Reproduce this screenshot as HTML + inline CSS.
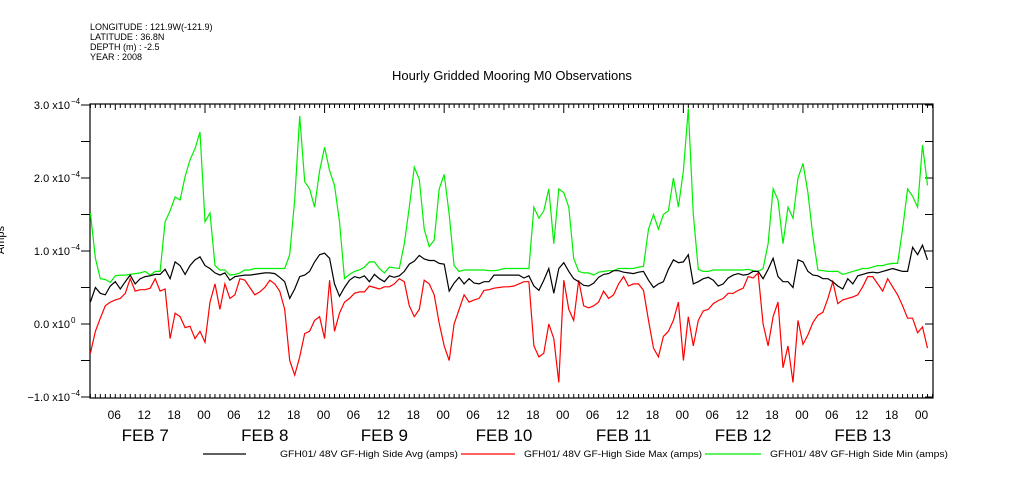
<!DOCTYPE html>
<html><head><meta charset="utf-8"><style>
body{margin:0;background:#fff;}
svg{display:block;font-family:"Liberation Sans",sans-serif;}
</style></head><body>
<svg id="chart" width="1009" height="504" viewBox="0 0 1009 504">
<g font-size="9" fill="#000">
<text x="90" y="30">LONGITUDE : 121.9W(-121.9)</text>
<text x="90" y="40">LATITUDE : 36.8N</text>
<text x="90" y="50">DEPTH (m) : -2.5</text>
<text x="90" y="60">YEAR : 2008</text>
</g>
<text x="512" y="80" font-size="13" text-anchor="middle">Hourly Gridded Mooring M0 Observations</text>
<text x="4" y="240" font-size="11" transform="rotate(-90 4 240)" text-anchor="middle">Amps</text>
<g id="axes"></g>
<g id="series"></g>
<g id="legend"></g>
</svg>
<script>
const hourStart = 1;
const yTicks = [3, 2, 1, 0, -1];
const yTickLabels = ["3.0 x10", "2.0 x10", "1.0 x10", "0.0 x10", "\u22121.0 x10"];
const yTickExp = ["-4", "-4", "-4", "0", "-4"];
const dayLabels = ["FEB   7", "FEB   8", "FEB   9", "FEB 10", "FEB 11", "FEB 12", "FEB 13"];
const hourLabels = ["06", "12", "18", "00"];
const avgSeries = [0.30,0.50,0.42,0.40,0.52,0.58,0.48,0.58,0.67,0.55,0.62,0.65,0.66,0.68,0.68,0.75,0.62,0.85,0.80,0.68,0.80,0.88,0.92,0.80,
0.76,0.70,0.67,0.70,0.60,0.65,0.66,0.67,0.67,0.68,0.69,0.70,0.70,0.69,0.64,0.58,0.35,0.48,0.65,0.67,0.72,0.85,0.95,0.97,
0.90,0.55,0.38,0.50,0.60,0.65,0.63,0.66,0.58,0.68,0.62,0.58,0.66,0.64,0.66,0.72,0.82,0.86,0.94,0.89,0.87,0.87,0.83,0.82,
0.45,0.56,0.64,0.55,0.62,0.56,0.55,0.58,0.58,0.67,0.67,0.67,0.67,0.67,0.67,0.63,0.66,0.52,0.46,0.60,0.76,0.42,0.76,0.84,
0.72,0.62,0.58,0.53,0.52,0.56,0.64,0.68,0.69,0.73,0.73,0.71,0.70,0.69,0.71,0.72,0.60,0.50,0.55,0.58,0.75,0.88,0.84,0.85,
0.95,0.55,0.58,0.62,0.64,0.60,0.52,0.55,0.63,0.67,0.69,0.67,0.68,0.72,0.72,0.62,0.75,0.90,0.65,0.58,0.58,0.50,0.88,0.85,
0.72,0.67,0.66,0.62,0.62,0.58,0.52,0.48,0.62,0.55,0.66,0.68,0.70,0.71,0.70,0.72,0.74,0.76,0.74,0.72,0.72,1.05,0.95,1.08,0.88];
const maxSeries = [-0.40,-0.10,0.08,0.25,0.30,0.33,0.35,0.42,0.62,0.45,0.47,0.47,0.49,0.62,0.45,0.48,-0.20,0.15,0.10,-0.05,-0.03,-0.20,-0.10,-0.25,
0.30,0.55,0.20,0.55,0.35,0.40,0.62,0.60,0.50,0.40,0.44,0.50,0.60,0.55,0.45,0.20,-0.50,-0.70,-0.45,-0.13,-0.10,0.05,0.10,-0.20,
0.60,-0.10,0.15,0.30,0.35,0.42,0.44,0.44,0.52,0.50,0.48,0.51,0.51,0.55,0.62,0.58,0.25,0.10,0.20,0.60,0.55,0.40,0.01,-0.30,
-0.50,0.00,0.20,0.40,0.30,0.33,0.35,0.46,0.47,0.49,0.50,0.51,0.51,0.52,0.55,0.58,0.58,-0.30,-0.45,-0.40,0.00,-0.20,-0.80,0.60,
0.20,0.05,0.60,0.25,0.22,0.25,0.30,0.45,0.35,0.40,0.55,0.65,0.52,0.55,0.55,0.46,0.05,-0.33,-0.45,-0.17,-0.10,0.05,0.30,-0.50,
0.10,-0.30,0.05,0.18,0.20,0.28,0.32,0.35,0.42,0.42,0.46,0.49,0.65,0.63,0.70,0.00,-0.30,0.10,0.30,-0.60,-0.30,-0.80,0.05,-0.28,
-0.15,0.02,0.12,0.16,0.35,0.58,0.28,0.33,0.35,0.37,0.40,0.51,0.65,0.65,0.55,0.45,0.62,0.51,0.40,0.25,0.08,0.08,-0.12,-0.04,-0.33];
const minSeries = [1.52,0.90,0.62,0.61,0.57,0.66,0.67,0.67,0.68,0.69,0.70,0.72,0.67,0.72,0.72,1.40,1.55,1.74,1.70,2.02,2.25,2.40,2.63,1.40,
1.52,0.80,0.74,0.74,0.67,0.68,0.70,0.74,0.74,0.76,0.76,0.76,0.76,0.76,0.76,0.76,0.95,1.70,2.85,1.95,1.85,1.60,2.10,2.42,
2.10,1.90,1.40,0.62,0.68,0.72,0.74,0.78,0.85,0.85,0.76,0.70,0.78,0.77,0.76,1.10,1.60,2.15,1.98,1.30,1.06,1.15,1.85,2.05,
1.50,0.80,0.72,0.74,0.74,0.74,0.74,0.74,0.73,0.73,0.74,0.76,0.76,0.76,0.76,0.76,0.76,1.60,1.45,1.55,1.85,1.10,1.85,1.80,
1.60,0.90,0.72,0.70,0.70,0.67,0.71,0.72,0.73,0.73,0.76,0.76,0.76,0.76,0.78,0.79,1.30,1.50,1.30,1.50,1.55,2.00,1.60,2.10,
2.95,1.50,0.75,0.72,0.72,0.74,0.74,0.74,0.74,0.74,0.74,0.74,0.75,0.73,0.72,0.76,1.10,1.85,1.70,1.10,1.60,1.45,2.00,2.20,
1.80,1.20,0.74,0.73,0.72,0.72,0.72,0.68,0.70,0.72,0.74,0.76,0.76,0.78,0.80,0.80,0.82,0.83,0.83,1.30,1.85,1.75,1.60,2.45,1.90];

const NS='http://www.w3.org/2000/svg';
const L=90,R=933,T=104,B=398;
const xOf=h=>85.4+4.983*h;
const yOf=v=>324-73*v;
function mk(tag,attrs,parent){const e=document.createElementNS(NS,tag);for(const k in attrs)e.setAttribute(k,attrs[k]);parent.appendChild(e);return e;}
const axes=document.getElementById('axes');
const frame=mk('rect',{x:L,y:T,width:R-L,height:B-T,fill:'none',stroke:'#000','stroke-width':1.2},axes);


for(let h=1;h<=170;h++){
  const x=xOf(h); if(x<L||x>R)continue;
  const major=h%24===0; const mid=h%6===0;
  const len=major?9:(mid?6:4);
  const t1=mk('line',{x1:x,y1:T,x2:x,y2:T+len,stroke:'#000','stroke-width':1},axes);
  
  
  const t2=mk('line',{x1:x,y1:B,x2:x,y2:B-4,stroke:'#000','stroke-width':1},axes);
  
  
  if(mid){
    const lab=mk('text',{x:x-1,y:419,'font-size':12,'text-anchor':'middle'},axes);
    lab.textContent=hourLabels[(h/6-1)%4];
    
    
  }
}
dayLabels.forEach((d,i)=>{
  const t=mk('text',{x:xOf(i*24+12),y:441,'font-size':17,'text-anchor':'middle','xml:space':'preserve'},axes);
  t.textContent=d;
  
  
});
for(let v=-1;v<=3.001;v+=0.5){
  const y=yOf(v);
  const lt=mk('line',{x1:L-9,y1:y,x2:L,y2:y,stroke:'#000','stroke-width':1},axes);
  
  
  const rt=mk('line',{x1:R-8,y1:y,x2:R,y2:y,stroke:'#000','stroke-width':1},axes);
  
  
}
yTicks.forEach((v,i)=>{
  const t=mk('text',{x:70,y:yOf(v)+4,'font-size':11,'text-anchor':'end'},axes);
  t.textContent=yTickLabels[i];
  
  
  const s=mk('text',{x:71,y:yOf(v)-1,'font-size':8,'text-anchor':'start'},axes);
  s.textContent=yTickExp[i].replace('-','\u2212');
  
  
});
const ser=document.getElementById('series');
function drawLine(arr,color,name){
  const pts=arr.map((v,i)=>xOf(hourStart+i).toFixed(1)+','+yOf(v).toFixed(1)).join(' ');
  const p=mk('polyline',{points:pts,fill:'none',stroke:color,'stroke-width':1.2,'stroke-linejoin':'miter'},ser);
  
  
}
drawLine(maxSeries,'#ff0000','max-series-line');
drawLine(minSeries,'#00ee00','min-series-line');
drawLine(avgSeries,'#000000','avg-series-line');
const lg=document.getElementById('legend');
const legendItems=[["#000",203,246,280,"GFH01/ 48V GF-High Side Avg (amps)"],["#ff0000",461,515,524,"GFH01/ 48V GF-High Side Max (amps)"],["#00ee00",705,761,770,"GFH01/ 48V GF-High Side Min (amps)"]];
legendItems.forEach(it=>{
  const ln=mk('line',{x1:it[1],y1:454,x2:it[2],y2:454,stroke:it[0],'stroke-width':1.2},lg);
  
  
  const t=mk('text',{x:it[3],y:457,'font-size':9.5,textLength:178,lengthAdjust:'spacingAndGlyphs'},lg);
  t.textContent=it[4];
  
  
});
</script>
</body></html>
